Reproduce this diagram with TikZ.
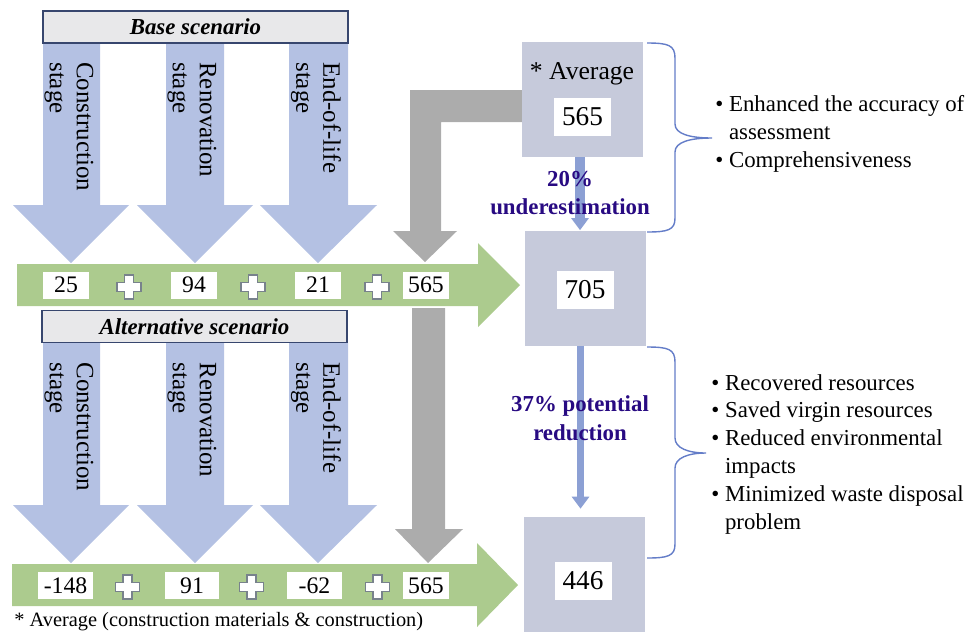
\documentclass[tikz,border=0pt]{standalone}
\usepackage{fontspec}
\setmainfont{Liberation Serif}
\usetikzlibrary{arrows.meta,positioning}
\definecolor{stageblue}{RGB}{180,193,227}
\definecolor{sumgreen}{RGB}{172,203,142}
\definecolor{scenfill}{RGB}{232,232,234}
\definecolor{scenframe}{RGB}{55,70,110}
\definecolor{avggray}{RGB}{172,172,172}
\definecolor{resultgray}{RGB}{198,202,219}
\definecolor{changeblue}{RGB}{140,160,212}
\definecolor{labelindigo}{RGB}{40,10,130}
\definecolor{braceblue}{RGB}{100,125,200}
\definecolor{plusgray}{RGB}{120,130,140}
\tikzset{
    stagearrow/.style={fill=stageblue, draw=none},
    sumbar/.style={fill=sumgreen, draw=none},
    avgarrow/.style={fill=avggray, draw=none},
    scenbox/.style={draw=scenframe, fill=scenfill, line width=1pt, minimum width=6.1cm,
        minimum height=0.64cm, inner sep=0pt, font=\fontsize{13}{15}\selectfont\bfseries\itshape},
    stagetext/.style={rotate=-90, anchor=west, align=left, inner sep=0pt,
        font=\fontsize{14.2}{15.4}\selectfont},
    valbox/.style={fill=white, minimum width=0.92cm, minimum height=0.54cm, inner sep=0pt,
        font=\fontsize{13.5}{15}\selectfont},
    altvalbox/.style={valbox, minimum width=1.1cm},
    resultbox/.style={fill=resultgray, minimum width=2.42cm, minimum height=2.3cm, inner sep=0pt},
    bignum/.style={fill=white, minimum width=1.14cm, minimum height=0.76cm, inner sep=0pt,
        font=\fontsize{15.5}{17}\selectfont},
    change/.style={draw=changeblue, line width=5.5pt, -{Triangle[width=0.34cm,length=0.24cm]}},
    changelabel/.style={text=labelindigo, align=center, inner sep=0pt,
        font=\fontsize{13}{16.4}\selectfont\bfseries},
    brace/.style={draw=braceblue, line width=0.8pt},
    benefits/.style={anchor=base west, align=left, inner sep=0pt, font=\fontsize{13}{15.8}\selectfont},
    plussign/.pic={\draw[fill=white, draw=plusgray, line width=0.6pt]
        (-12,-4.5) -- (-4.5,-4.5) -- (-4.5,-12) -- (4.5,-12) -- (4.5,-4.5) -- (12,-4.5) -- (12,4.5)
        -- (4.5,4.5) -- (4.5,12) -- (-4.5,12) -- (-4.5,4.5) -- (-12,4.5) -- cycle;},
}

\begin{document}
\begin{tikzpicture}[x=0.02cm,y=-0.02cm]
		\useasboundingbox (0,0) rectangle (969,633);
		% Stage arrows of the base scenario
		\draw[stagearrow] (43,43) -- (100,43) -- (100,205) -- (129,205) -- (71,263) -- (13,205) -- (43,205) -- cycle;
		\draw[stagearrow] (166,43) -- (224,43) -- (224,205) -- (253,205) -- (195,263) -- (137,205) -- (166,205) -- cycle;
		\draw[stagearrow] (289,43) -- (348,43) -- (348,205) -- (377,205) -- (318,263) -- (260,205) -- (289,205) -- cycle;
		% Stage arrows of the alternative scenario
		\draw[stagearrow] (43,343) -- (100,343) -- (100,505) -- (129,505) -- (71,563) -- (13,505) -- (43,505) -- cycle;
		\draw[stagearrow] (166,343) -- (224,343) -- (224,505) -- (253,505) -- (195,563) -- (137,505) -- (166,505) -- cycle;
		\draw[stagearrow] (289,343) -- (348,343) -- (348,505) -- (377,505) -- (318,563) -- (260,505) -- (289,505) -- cycle;
		% Scenario headers
		\node[scenbox] (basehead) at (195.5,27) {Base scenario};
		\node[scenbox] (althead) at (194.5,326.5) {Alternative scenario};
		% Stage names
		\node[stagetext] (bcons) at (69,62) {Construction\\stage};
		\node[stagetext] (breno) at (192,62) {Renovation\\stage};
		\node[stagetext] (beol) at (316,62) {End-of-life\\stage};
		\node[stagetext] (acons) at (69,362) {Construction\\stage};
		\node[stagetext] (areno) at (192,362) {Renovation\\stage};
		\node[stagetext] (aeol) at (316,362) {End-of-life\\stage};
		% The sum bars
		\draw[sumbar] (17,264) -- (478,264) -- (478,243) -- (520,285) -- (478,327) -- (478,306) -- (17,306) -- cycle;
		\draw[sumbar] (12,564) -- (477,564) -- (477,543) -- (518,585) -- (477,627) -- (477,606) -- (12,606) -- cycle;
		% The average fed into both sums
		\draw[avgarrow] (522,90) -- (410,90) -- (410,231) -- (393,231) -- (425,262) -- (457,231) -- (441,231) -- (441,122) -- (522,122) -- cycle;
		\draw[avgarrow] (412,308) -- (445,308) -- (445,529) -- (463,529) -- (428,563) -- (395,529) -- (412,529) -- cycle;
		% Base scenario values
		\node[valbox] (b25) at (66,285) {25};
		\node[valbox] (b94) at (194,285) {94};
		\node[valbox] (b21) at (318,285) {21};
		\node[valbox] (b565) at (426,285) {565};
		\pic at (129,287) {plussign};
		\pic at (253,287) {plussign};
		\pic at (377,287) {plussign};
		% Alternative scenario values
		\node[altvalbox] (a148) at (65.5,585.5) {-148};
		\node[altvalbox] (a91) at (192,585.5) {91};
		\node[altvalbox] (a62) at (314.5,585.5) {-62};
		\node[valbox] (a565) at (426,585.5) {565};
		\pic at (127.5,587) {plussign};
		\pic at (251.5,587) {plussign};
		\pic at (377.5,587) {plussign};
		% Result boxes
		\node[resultbox] (average) at (582.5,99.5) {};
		\node[resultbox] (basetotal) at (585,288) {};
		\node[resultbox] (alttotal) at (584,574.5) {};
		\node[font=\fontsize{14.6}{16}\selectfont] (avgtext) at (582,74) {* Average};
		\node[bignum] (avgnum) at (582.5,116.5) {565};
		\node[bignum] (basenum) at (585,290) {705};
		\node[bignum] (altnum) at (583,580.5) {446};
		% Changes between the results
		\draw[change] ([xshift=-0.05cm]average.south) -- ([xshift=-0.05cm]average.south |- basetotal.north);
		\draw[change, line width=4pt, shorten >=0.16cm] ([xshift=-0.09cm]basetotal.south) -- ([xshift=-0.09cm]basetotal.south |- alttotal.north);
		\node[changelabel] (under) at (570,193) {20\%\\underestimation};
		\node[changelabel] (reduce) at (580,418) {37\% potential\\reduction};
		% Braces
		\draw[brace] (647,43) .. controls (668,43) and (675,45) .. (675,58) -- (675,124)
			.. controls (675,134) and (690,138) .. (712,138) .. controls (690,138) and (675,142) .. (675,152)
			-- (675,218) .. controls (675,230) and (668,232) .. (647,232);
		\draw[brace] (647,347) .. controls (668,347) and (675,349) .. (675,362) -- (675,438)
			.. controls (675,448) and (688,453) .. (706,453) .. controls (688,453) and (675,458) .. (675,468)
			-- (675,544) .. controls (675,556) and (668,558) .. (647,558);
		% Benefits (base point is the last line)
		\node[benefits] (gains) at (715,167) {\textbullet\ Enhanced the accuracy of\\
			\hphantom{\textbullet\ }assessment\\\textbullet\ Comprehensiveness};
		\node[benefits] (savings) at (711,529) {\textbullet\ Recovered resources\\
			\textbullet\ Saved virgin resources\\\textbullet\ Reduced environmental\\
			\hphantom{\textbullet\ }impacts\\\textbullet\ Minimized waste disposal\\
			\hphantom{\textbullet\ }problem};
		% Footnote
		\node[anchor=base west, inner sep=0pt, font=\fontsize{11.6}{13}\selectfont] (note) at (14,626)
			{* Average (construction materials \& construction)};
	\end{tikzpicture}
\end{document}
